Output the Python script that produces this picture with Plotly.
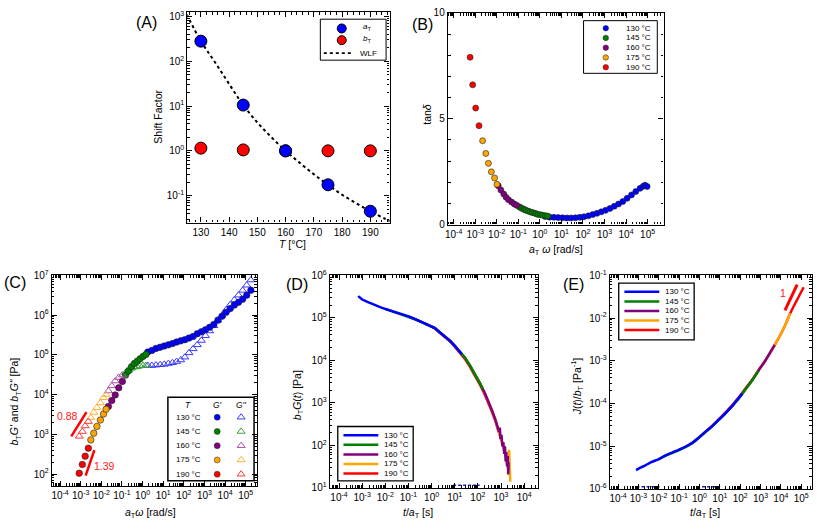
import plotly.graph_objects as go

FONT = "Liberation Sans, Arial, sans-serif"
W, H = 817, 532

# ---------------- data ----------------
temps = ["130 °C", "145 °C", "160 °C", "175 °C", "190 °C"]

# (A) shift factors
A_T = [130, 145, 160, 175, 190]
A_aT = [280, 10.5, 1.0, 0.175, 0.045]
A_bT = [1.15, 1.05, 1.0, 1.0, 1.0]
A_wlf_T = [125, 130, 135, 140, 145, 150, 155, 160, 165, 170, 175, 180, 185, 190, 195, 197]
A_wlf = [1100, 280, 95, 31, 10.5, 4.3, 2.0, 1.0, 0.54, 0.30, 0.175, 0.105, 0.068, 0.045, 0.031, 0.027]

# (B) tan(delta) vs aT*omega
B_w_130 = [1.78, 2.82, 4.47, 7.08, 11.2, 17.8, 28.2, 44.7, 70.8, 112, 178, 282, 447, 708,
           1120, 1780, 2820, 4470, 7080, 1.12e4, 1.78e4, 2.82e4, 4.47e4, 6.3e4, 7.6e4, 9.5e4]
B_tan_130 = [0.38, 0.35, 0.34, 0.33, 0.32, 0.31, 0.31, 0.32, 0.34, 0.37, 0.41, 0.47, 0.53, 0.60,
             0.67, 0.76, 0.86, 0.97, 1.09, 1.24, 1.40, 1.56, 1.71, 1.81, 1.86, 1.80]
B_w_145 = [0.11, 0.13, 0.16, 0.19, 0.22, 0.28, 0.35, 0.44, 0.55, 0.68, 0.83, 1.07, 1.35, 1.8, 2.3]
B_tan_145 = [0.84, 0.79, 0.75, 0.71, 0.68, 0.64, 0.60, 0.57, 0.54, 0.51, 0.48, 0.46, 0.44, 0.42, 0.40]
B_w_160 = [1.17e-2, 1.55e-2, 2.1e-2, 2.7e-2, 3.5e-2, 4.9e-2, 6.5e-2, 8.3e-2]
B_tan_160 = [1.83, 1.63, 1.44, 1.29, 1.17, 1.06, 0.97, 0.91]
B_w_175 = [2.2e-3, 3.1e-3, 4.1e-3, 5.6e-3, 7.9e-3, 1.02e-2]
B_tan_175 = [3.96, 3.36, 2.89, 2.49, 2.20, 1.90]
B_w_190 = [5.8e-4, 7.6e-4, 1.05e-3, 1.5e-3]
B_tan_190 = [7.9, 6.6, 5.5, 4.67]

# (C) bT*G' and bT*G'' vs aT*omega
C_w_130 = [1.78, 2.82, 4.47, 7.08, 11.2, 17.8, 28.2, 44.7, 70.8, 112, 178, 282, 447, 708,
           1120, 1780, 2820, 4470, 7080, 1.12e4, 1.78e4, 2.82e4, 4.47e4, 7.08e4, 1.12e5, 1.78e5]
C_Gp_130 = [1.17e5, 1.29e5, 1.45e5, 1.55e5, 1.66e5, 1.78e5, 1.91e5, 2.09e5, 2.24e5, 2.40e5, 2.63e5,
            2.88e5, 3.39e5, 3.80e5, 4.27e5, 4.90e5, 5.75e5, 7.41e5, 9.33e5, 1.17e6, 1.45e6, 1.78e6,
            2.09e6, 2.51e6, 3.16e6, 4.2e6]
C_Gpp_130 = [5.37e4, 5.37e4, 5.50e4, 5.62e4, 5.75e4, 6.03e4, 6.31e4, 6.76e4, 7.41e4, 8.71e4, 1.12e5,
             1.41e5, 1.78e5, 2.29e5, 3.02e5, 3.98e5, 5.37e5, 7.41e5, 9.77e5, 1.35e6, 1.82e6, 2.40e6,
             3.16e6, 4.17e6, 5.62e6, 7.6e6]
C_w_145 = [0.15, 0.21, 0.29, 0.40, 0.55, 0.76, 1.05, 1.45]
C_Gp_145 = [3.09e4, 3.98e4, 5.01e4, 6.03e4, 6.92e4, 7.94e4, 9.12e4, 1.02e5]
C_Gpp_145 = [3.55e4, 4.07e4, 4.57e4, 4.90e4, 5.01e4, 5.25e4, 5.37e4, 5.37e4]
C_w_160 = [0.022, 0.032, 0.047, 0.070, 0.105]
C_Gp_160 = [5010, 7080, 9770, 1.48e4, 2.14e4]
C_Gpp_160 = [1.23e4, 1.66e4, 2.19e4, 2.69e4, 3.09e4]
C_w_175 = [3.1e-3, 4.3e-3, 6.1e-3, 9.0e-3, 1.28e-2, 1.7e-2]
C_Gp_175 = [724, 1070, 1580, 2290, 3240, 4270]
C_Gpp_175 = [2630, 3550, 4680, 6170, 8320, 1.0e4]
C_w_190 = [8.5e-4, 1.2e-3, 1.65e-3, 2.35e-3]
C_Gp_190 = [105, 174, 282, 447]
C_Gpp_190 = [891, 1175, 1620, 2090]
C_slope1_w = [3.5e-4, 1.9e-3]
C_slope1_G = [891, 3630]
C_slope1_lbl = ("0.88", -3.66, 3.46)   # text, log10 x, log10 y
C_slope2_w = [1.74e-3, 4.6e-3]
C_slope2_G = [91, 398]
C_slope2_lbl = ("1.39", -1.85, 2.20)

# (D) bT*G(t) vs t/aT
D_t_130 = [6.7e-4, 1.0e-3, 1.78e-3, 3.16e-3, 6.8e-3, 1.26e-2, 2.57e-2, 5.0e-2, 9.5e-2, 0.178,
           0.363, 0.708, 1.38, 2.24, 3.72, 6.31, 10, 15.8, 20]
D_G_130 = [3.24e5, 2.69e5, 2.34e5, 2.04e5, 1.74e5, 1.55e5, 1.38e5, 1.23e5, 1.10e5, 9.5e4,
           8.1e4, 6.8e4, 5.75e4, 4.57e4, 3.72e4, 2.88e4, 2.19e4, 1.66e4, 1.41e4]
D_t_145 = [1.0e-2, 2.57e-2, 5.0e-2, 9.5e-2, 0.178, 0.363, 0.708, 1.38, 2.24, 3.72, 6.31, 10,
           15.8, 26.9, 44.7, 72.4, 126, 166]
D_G_145 = [1.62e5, 1.37e5, 1.22e5, 1.09e5, 9.4e4, 8.0e4, 6.7e4, 5.7e4, 4.55e4, 3.7e4, 2.87e4,
           2.2e4, 1.68e4, 1.19e4, 7700, 4950, 2850, 2090]
D_t_160 = [0.1, 0.178, 0.363, 0.708, 1.38, 2.24, 3.72, 6.31, 10, 15.8, 26.9, 44.7, 72.4, 126,
           200, 282, 389, 562, 741, 832, 891, 955, 1047, 1148, 1259, 1380, 1479, 1585, 1698,
           1820, 1950, 2042, 2138]
D_G_160 = [1.08e5, 9.5e4, 8.1e4, 6.8e4, 5.75e4, 4.57e4, 3.72e4, 2.88e4, 2.19e4, 1.66e4, 1.17e4,
           7590, 4900, 2820, 1700, 1120, 708, 417, 245, 209, 263, 141, 178, 95, 120, 63, 95, 42,
           71, 32, 56, 21, 40]
D_t_175 = [0.5, 0.708, 1.38, 2.24, 3.72, 6.31, 10, 15.8, 26.9, 44.7, 72.4, 126, 200, 282, 389,
           562, 741, 1000, 1230, 1480, 1700, 1995, 2138, 2239, 2344, 2399, 2512]
D_G_175 = [7.4e4, 6.8e4, 5.75e4, 4.57e4, 3.72e4, 2.88e4, 2.19e4, 1.66e4, 1.17e4, 7590, 4900,
           2820, 1700, 1120, 708, 417, 245, 158, 102, 71, 50, 35, 20, 79, 16, 56, 14]
D_t_190 = [1.0, 1.38, 2.24, 3.72, 6.31, 10, 15.8, 26.9, 44.7, 72.4, 126, 200, 282, 389, 562,
           741, 1000]
D_G_190 = [6.2e4, 5.6e4, 4.45e4, 3.6e4, 2.78e4, 2.1e4, 1.58e4, 1.1e4, 7100, 4550, 2600, 1560,
           1030, 650, 385, 228, 150]
# 130 °C points sitting on the lower axis floor (dashes at the bottom of panel D)
D_floor_t = [8.5, 120]
D_floor_G = [11.5, 11.5]

# (E) J(t)/bT vs t/aT
E_t_130 = [7.6e-4, 1.26e-3, 2.19e-3, 3.98e-3, 1.0e-2, 2.0e-2, 4.47e-2, 0.1, 0.204, 0.447,
           0.912, 2.0, 4.17, 8.9, 18.6, 39.8, 83, 126]
E_J_130 = [2.75e-6, 3.16e-6, 3.55e-6, 4.17e-6, 5.0e-6, 6.0e-6, 7.1e-6, 8.3e-6, 9.7e-6,
           1.2e-5, 1.58e-5, 2.19e-5, 2.95e-5, 4.17e-5, 5.9e-5, 8.7e-5, 1.32e-4, 1.7e-4]
E_t_145 = [1.0e-2, 2.0e-2, 4.47e-2, 0.1, 0.204, 0.447, 0.912, 2.0, 4.17, 8.9, 18.6, 39.8, 83,
           178, 380, 794]
E_J_145 = [4.9e-6, 5.85e-6, 6.9e-6, 8.1e-6, 9.5e-6, 1.18e-5, 1.56e-5, 2.16e-5, 2.92e-5,
           4.12e-5, 5.85e-5, 8.6e-5, 1.3e-4, 2.1e-4, 3.4e-4, 5.8e-4]
E_t_160 = [0.1, 0.204, 0.447, 0.912, 2.0, 4.17, 8.9, 18.6, 39.8, 83, 178, 380, 794, 1700, 3630,
           5000]
E_J_160 = [8.3e-6, 9.7e-6, 1.2e-5, 1.58e-5, 2.19e-5, 2.95e-5, 4.17e-5, 5.9e-5, 8.7e-5,
           1.32e-4, 2.14e-4, 3.47e-4, 5.9e-4, 1.0e-3, 1.82e-3, 2.35e-3]
E_t_175 = [0.5, 0.912, 2.0, 4.17, 8.9, 18.6, 39.8, 83, 178, 380, 794, 1700, 3630, 7760,
           1.58e4, 2.88e4]
E_J_175 = [1.3e-5, 1.58e-5, 2.19e-5, 2.95e-5, 4.17e-5, 5.9e-5, 8.7e-5, 1.32e-4, 2.14e-4,
           3.47e-4, 5.9e-4, 1.0e-3, 1.82e-3, 3.39e-3, 6.6e-3, 1.29e-2]
E_t_190 = [3.16, 8.9, 18.6, 39.8, 83, 178, 380, 794, 1700, 3630, 7760, 1.58e4, 2.88e4, 6.3e4,
           1.32e5]
E_J_190 = [2.6e-5, 4.3e-5, 6.1e-5, 9.0e-5, 1.37e-4, 2.22e-4, 3.55e-4, 6.0e-4, 1.0e-3, 1.82e-3,
           3.39e-3, 6.6e-3, 1.29e-2, 2.69e-2, 5.25e-2]
E_slope_t = [1.58e4, 6.3e4]
E_slope_J = [1.51e-2, 6.03e-2]
E_slope_lbl = ("1", 4.12, -1.42)
# 130 °C points sitting on the lower axis floor (dashes at the bottom of panel E)
E_floor_t = [8.0e-4, 1.2e-2, None, 0.76, 10.5]
E_floor_J = [1.12e-6, 1.12e-6, None, 1.12e-6, 1.12e-6]

# ---------------- styles ----------------
COL = ["#0000ff", "#008000", "#800080", "#ffa500", "#ff0000"]
TRI = ["#3a3aff", "#3aa03a", "#b050b0", "#ffb030", "#ff3a3a"]


def pxx(x):
    return x / W


def pxy(y):
    return 1 - y / H


fig = go.Figure()


def add(x, y, xa, ya, **kw):
    fig.add_trace(go.Scatter(x=x, y=y, xaxis=xa, yaxis=ya, showlegend=False, **kw))


# (A)
add(A_wlf_T, A_wlf, "x", "y", mode="lines",
    line=dict(color="black", width=2, dash="dot", shape="spline"))
add(A_T, A_bT, "x", "y", mode="markers",
    marker=dict(size=12, color=COL[4], line=dict(color="black", width=1)))
add(A_T, A_aT, "x", "y", mode="markers",
    marker=dict(size=12, color=COL[0], line=dict(color="black", width=1)))

# (B)
B_sets = [(B_w_130, B_tan_130), (B_w_145, B_tan_145), (B_w_160, B_tan_160),
          (B_w_175, B_tan_175), (B_w_190, B_tan_190)]
for i, (w, t) in enumerate(B_sets):
    add(w, t, "x2", "y2", mode="markers",
        marker=dict(size=6, color=COL[i], line=dict(color="#222", width=0.6)))

# (C)
C_sets = [(C_w_130, C_Gp_130, C_Gpp_130), (C_w_145, C_Gp_145, C_Gpp_145),
          (C_w_160, C_Gp_160, C_Gpp_160), (C_w_175, C_Gp_175, C_Gpp_175),
          (C_w_190, C_Gp_190, C_Gpp_190)]
for i, (w, gp, gpp) in enumerate(C_sets):
    add(w, gpp, "x3", "y3", mode="markers",
        marker=dict(size=7, symbol="triangle-up-open", color=TRI[i], line=dict(width=1)))
    add(w, gp, "x3", "y3", mode="markers",
        marker=dict(size=6.5, color=COL[i], line=dict(color="#222", width=0.6)))
add(C_slope1_w, C_slope1_G, "x3", "y3", mode="lines", line=dict(color="#ff0000", width=2.5))
add(C_slope2_w, C_slope2_G, "x3", "y3", mode="lines", line=dict(color="#ff0000", width=2.5))

# (D)
D_sets = [(D_t_130, D_G_130), (D_t_145, D_G_145), (D_t_160, D_G_160),
          (D_t_175, D_G_175), (D_t_190, D_G_190)]
for i in [4, 3, 2, 1, 0]:
    t, g = D_sets[i]
    add(t, g, "x4", "y4", mode="lines", line=dict(color=COL[i], width=2.5))
add(D_floor_t, D_floor_G, "x4", "y4", mode="lines",
    line=dict(color="#2020d0", width=1.5, dash="3px,2px"))

# (E)
E_sets = [(E_t_130, E_J_130), (E_t_145, E_J_145), (E_t_160, E_J_160),
          (E_t_175, E_J_175), (E_t_190, E_J_190)]
for i in [4, 3, 2, 1, 0]:
    t, j = E_sets[i]
    add(t, j, "x5", "y5", mode="lines", line=dict(color=COL[i], width=2.5, shape="spline"))
add(E_slope_t, E_slope_J, "x5", "y5", mode="lines", line=dict(color="#ff0000", width=3))
add(E_floor_t, E_floor_J, "x5", "y5", mode="lines",
    line=dict(color="#2020d0", width=1.5, dash="3px,2px"))

# ---------------- legends (drawn on a pixel overlay axis x6/y6) ----------------
annotations = []
shapes = []


def txt(x, y, text, size=8, xanchor="left", color="black", ref=("x6", "y6"), angle=0,
        yanchor="middle"):
    annotations.append(dict(x=x, y=y, xref=ref[0], yref=ref[1], text=text, showarrow=False,
                            xanchor=xanchor, yanchor=yanchor, textangle=angle,
                            font=dict(family=FONT, size=size, color=color)))


def box(x0, y0, x1, y1, width=1):
    shapes.append(dict(type="rect", xref="x6", yref="y6", x0=x0, y0=y0, x1=x1, y1=y1,
                       line=dict(color="black", width=width), fillcolor="rgba(0,0,0,0)"))


# legend A
box(318.5, 12.5, 384.5, 54.5)
add([340], [22], "x6", "y6", mode="markers", cliponaxis=False,
    marker=dict(size=9, color=COL[0], line=dict(color="black", width=1)))
add([340], [34], "x6", "y6", mode="markers", cliponaxis=False,
    marker=dict(size=9, color=COL[4], line=dict(color="black", width=1)))
add([322, 352], [47.3, 47.3], "x6", "y6", mode="lines", cliponaxis=False,
    line=dict(color="black", width=1.6, dash="dot"))
txt(359, 21, "<i>a</i><sub>T</sub>", 8)
txt(359, 33, "<i>b</i><sub>T</sub>", 8)
txt(356, 47.3, "WLF", 8)

# legend B
box(582.7, 14, 656.7, 68)
for i in range(5):
    yy = 21.7 + 10 * i
    add([605], [yy], "x6", "y6", mode="markers", cliponaxis=False,
        marker=dict(size=5.5, color=COL[i], line=dict(color="#222", width=0.5)))
    txt(652, yy, temps[i], 8, xanchor="right")

# legend C (table)
box(165.5, 400, 252, 485.5, width=1.5)
txt(186, 407.5, "<i>T</i>", 8.5, xanchor="center")
txt(215, 407.5, "<i>G'</i>", 8.5, xanchor="center")
txt(239, 407.5, "<i>G''</i>", 8.5, xanchor="center")
for i in range(5):
    yy = 420.5 + 14.6 * i
    txt(186.5, yy, temps[i], 8, xanchor="center")
    add([215], [yy], "x6", "y6", mode="markers", cliponaxis=False,
        marker=dict(size=6, color=COL[i], line=dict(color="#222", width=0.5)))
    add([239], [yy], "x6", "y6", mode="markers", cliponaxis=False,
        marker=dict(size=7, symbol="triangle-up-open", color=TRI[i], line=dict(width=1)))

# legend D
box(336, 430, 411.7, 485.7, width=1.3)
for i in range(5):
    yy = 439 + 9.8 * i
    add([341.7, 376.7], [yy, yy], "x6", "y6", mode="lines", cliponaxis=False,
        line=dict(color=COL[i], width=2.5))
    txt(380.5, yy, temps[i], 8)

# legend E
box(618, 283, 693.7, 341.3, width=1.3)
for i in range(5):
    yy = 292 + 9.8 * i
    add([623.7, 658.7], [yy, yy], "x6", "y6", mode="lines", cliponaxis=False,
        line=dict(color=COL[i], width=2.5))
    txt(662.5, yy, temps[i], 8)

# panel labels
txt(144, 16, "(A)", 16, xanchor="center")
txt(421.5, 17.5, "(B)", 16, xanchor="center")
txt(12.5, 282, "(C)", 16, xanchor="center")
txt(295.5, 284, "(D)", 16, xanchor="center")
txt(572.5, 284, "(E)", 16, xanchor="center")

# axis titles
TS = 10.5
txt(155.5, 112.5, "Shift Factor", TS, xanchor="center", angle=-90)
txt(291, 243, "<i>T</i> [°C]", TS, xanchor="center")
txt(426, 110, "tan<i>δ</i>", TS, xanchor="center", angle=-90)
txt(555, 249, "<i>a</i><sub>T</sub> <i>ω</i> [rad/s]", TS, xanchor="center")
txt(12.5, 404, "<i>b</i><sub>T</sub><i>G'</i> and <i>b</i><sub>T</sub><i>G\"</i> [Pa]", TS,
    xanchor="center", angle=-90)
txt(148, 519, "<i>a</i><sub>T</sub><i>ω</i> [rad/s]", TS, xanchor="center")
txt(296, 398, "<i>b</i><sub>T</sub><i>G</i>(<i>t</i>) [Pa]", TS, xanchor="center", angle=-90)
txt(417, 519, "<i>t</i>/<i>a</i><sub>T</sub> [s]", TS, xanchor="center")
txt(577, 389, "<i>J</i>(<i>t</i>)/<i>b</i><sub>T</sub> [Pa<sup>-1</sup>]", TS, xanchor="center",
    angle=-90)
txt(705, 519, "<i>t</i>/<i>a</i><sub>T</sub> [s]", TS, xanchor="center")

# slope labels (log10 coordinates on their data axes)
for lbl, ax in [(C_slope1_lbl, ("x3", "y3")), (C_slope2_lbl, ("x3", "y3")),
                (E_slope_lbl, ("x5", "y5"))]:
    txt(lbl[1], lbl[2], lbl[0], 10.5, xanchor="center", color="#ff2020", ref=ax)

# ---------------- axes ----------------
TICKFONT = dict(family=FONT, size=10, color="black")


def base_axis(dom, anchor, **kw):
    d = dict(domain=dom, anchor=anchor, showline=True, linecolor="black", linewidth=1.3,
             mirror="allticks", ticks="inside", ticklen=5, tickwidth=1, tickcolor="black",
             showgrid=False, zeroline=False, tickfont=TICKFONT, fixedrange=True)
    d.update(kw)
    return d


def log_axis(dom, anchor, rng, lo, hi):
    vals = [10.0 ** k for k in range(lo, hi + 1)]
    text = ["10<sup>%d</sup>" % k for k in range(lo, hi + 1)]
    minor = [m * 10.0 ** k for k in range(lo - 1, hi + 1) for m in range(2, 10)]
    return base_axis(dom, anchor, type="log", range=rng, tickmode="array", tickvals=vals,
                     ticktext=text,
                     minor=dict(tickmode="array", tickvals=minor, ticks="inside", ticklen=2.5,
                                tickcolor="black", showgrid=False))


def lin_axis(dom, anchor, rng, dtick, mdtick):
    return base_axis(dom, anchor, range=rng, tickmode="linear", tick0=0, dtick=dtick,
                     minor=dict(dtick=mdtick, ticks="inside", ticklen=2.5, tickcolor="black",
                                showgrid=False))


def xd(a, b):
    return [pxx(a), pxx(b)]


def yd(top, bottom):
    return [pxy(bottom), pxy(top)]


layout = dict(
    width=W, height=H, autosize=False, margin=dict(l=0, r=0, t=0, b=0),
    paper_bgcolor="white", plot_bgcolor="rgba(0,0,0,0)", showlegend=False,
    font=dict(family=FONT, color="black"),
    xaxis=lin_axis(xd(185, 388), "y", [125.2, 196.8], 10, 2),
    yaxis=log_axis(yd(5, 221), "x", [-1.6, 3.1], -1, 3),
    xaxis2=log_axis(xd(446.5, 663), "y2", [-4.27, 5.74], -4, 5),
    yaxis2=lin_axis(yd(6, 223), "x2", [0, 10], 5, 1),
    xaxis3=log_axis(xd(49, 255), "y3", [-4.4, 5.55], -4, 5),
    yaxis3=log_axis(yd(275, 491), "x3", [1.7, 7.0], 2, 7),
    xaxis4=log_axis(xd(328, 537), "y4", [-4.4, 4.6], -4, 4),
    yaxis4=log_axis(yd(275, 493), "x4", [1, 6], 1, 6),
    xaxis5=log_axis(xd(609, 812), "y5", [-4.41, 5.53], -4, 5),
    yaxis5=log_axis(yd(275, 494), "x5", [-6, -1], -6, -1),
    xaxis6=dict(domain=[0, 1], anchor="y6", range=[0, W], visible=False, fixedrange=True),
    yaxis6=dict(domain=[0, 1], anchor="x6", range=[H, 0], visible=False, fixedrange=True),
    annotations=annotations, shapes=shapes,
)
fig.update_layout(**layout)
fig.write_html("out.html")
